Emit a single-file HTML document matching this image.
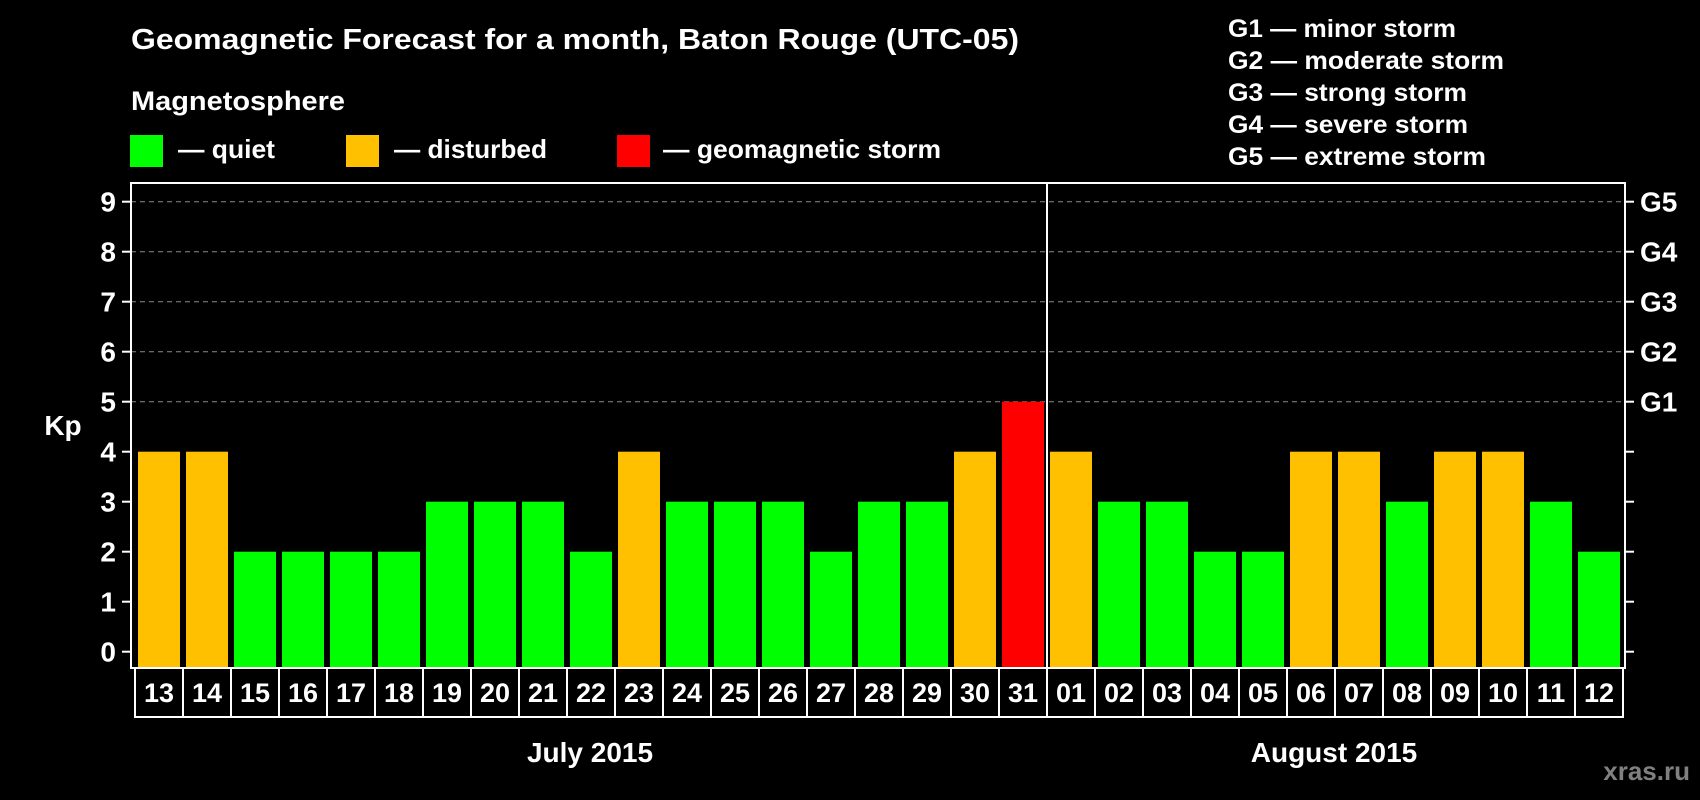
<!DOCTYPE html>
<html><head><meta charset="utf-8"><style>
html,body{margin:0;padding:0;background:#000;}
svg{display:block;font-family:"Liberation Sans",Arial,sans-serif;font-weight:bold;}
</style></head><body>
<svg id="chart" width="1700" height="800" viewBox="0 0 1700 800">
<rect x="0" y="0" width="1700" height="800" fill="#000"/>
<text x="131" y="49" font-size="29" fill="#fff" textLength="888" lengthAdjust="spacingAndGlyphs">Geomagnetic Forecast for a month, Baton Rouge (UTC-05)</text>
<text x="131" y="110" font-size="27" fill="#fff" textLength="214" lengthAdjust="spacingAndGlyphs">Magnetosphere</text>
<g>
<rect x="130" y="135" width="33" height="32" fill="#00ff00"/>
<text x="178" y="158" font-size="26" fill="#fff" textLength="97" lengthAdjust="spacingAndGlyphs">— quiet</text>
</g>
<g>
<rect x="346" y="135" width="33" height="32" fill="#ffc000"/>
<text x="394" y="158" font-size="26" fill="#fff" textLength="153" lengthAdjust="spacingAndGlyphs">— disturbed</text>
</g>
<g>
<rect x="617" y="135" width="33" height="32" fill="#ff0000"/>
<text x="663" y="158" font-size="26" fill="#fff" textLength="278" lengthAdjust="spacingAndGlyphs">— geomagnetic storm</text>
</g>
<g>
<text x="1228" y="37" font-size="25" fill="#fff" textLength="228" lengthAdjust="spacingAndGlyphs">G1 — minor storm</text>
<text x="1228" y="69" font-size="25" fill="#fff" textLength="276" lengthAdjust="spacingAndGlyphs">G2 — moderate storm</text>
<text x="1228" y="101" font-size="25" fill="#fff" textLength="239" lengthAdjust="spacingAndGlyphs">G3 — strong storm</text>
<text x="1228" y="133" font-size="25" fill="#fff" textLength="240" lengthAdjust="spacingAndGlyphs">G4 — severe storm</text>
<text x="1228" y="165" font-size="25" fill="#fff" textLength="258" lengthAdjust="spacingAndGlyphs">G5 — extreme storm</text>
</g>
<text x="63" y="435" font-size="28" fill="#fff" text-anchor="middle">Kp</text>
<g id="grid"></g>
<g id="bars"></g>
<g id="axes"></g>
<text x="590" y="762" font-size="28" fill="#fff" text-anchor="middle">July 2015</text>
<text x="1334" y="762" font-size="28" fill="#fff" text-anchor="middle">August 2015</text>
<text x="1690" y="780" font-size="26" fill="#808080" text-anchor="end">xras.ru</text>
</svg>
<script>
const days = ["13","14","15","16","17","18","19","20","21","22","23","24","25","26","27","28","29","30","31","01","02","03","04","05","06","07","08","09","10","11","12"];
const kpValues = [4,4,2,2,2,2,3,3,3,2,4,3,3,3,2,3,3,4,5,4,3,3,2,2,4,4,3,4,4,3,2];
const yTicks = [0,1,2,3,4,5,6,7,8,9];
const stormLabels = ["G1","G2","G3","G4","G5"];
const stormLevels = [5,6,7,8,9];
const monthBreakIndex = 19;

const NS = "http://www.w3.org/2000/svg";
const plotL = 131, plotR = 1625, plotT = 183, plotB = 668;
const slot0 = 135, slotW = 48;
function yScale(v){ return 651.7 - 50 * v; }
function xSlot(i){ return slot0 + slotW * i; }
function mk(tag, attrs, parent){ const e = document.createElementNS(NS, tag); for (const k in attrs) e.setAttribute(k, attrs[k]); parent.appendChild(e); return e; }
function colorFor(v){ return v >= 5 ? "#ff0000" : (v >= 4 ? "#ffc000" : "#00ff00"); }

const grid = document.getElementById("grid");
const bars = document.getElementById("bars");
const axes = document.getElementById("axes");

yTicks.forEach(function(t){
  const y = yScale(t);
  if (t >= 5) {
    const g = mk("line", {x1: plotL, x2: plotR, y1: y, y2: y, stroke: "#8a8a8a", "stroke-width": 1, "stroke-dasharray": "5,4"}, grid);
    
    
  }
  const tl = mk("line", {x1: 122, x2: plotL, y1: y, y2: y, stroke: "#fff", "stroke-width": 2}, axes);
  
  
  const tr = mk("line", {x1: plotR, x2: 1634, y1: y, y2: y, stroke: "#fff", "stroke-width": 2}, axes);
  
  
  const lab = mk("text", {x: 116, y: y + 10, "font-size": 28, fill: "#fff", "text-anchor": "end"}, axes);
  lab.textContent = t;
  
  
});

stormLabels.forEach(function(s, i){
  const y = yScale(stormLevels[i]);
  const lab = mk("text", {x: 1640, y: y + 10, "font-size": 28, fill: "#fff"}, axes);
  lab.textContent = s;
  
  
});

kpValues.forEach(function(v, i){
  const x = xSlot(i) + 3;
  const b = mk("rect", {x: x, y: yScale(v), width: 42, height: (plotB - 1) - yScale(v), fill: colorFor(v)}, bars);
  
  
});

const frame = mk("rect", {x: plotL, y: plotT, width: plotR - plotL, height: plotB - plotT, fill: "none", stroke: "#fff", "stroke-width": 2}, axes);


const div = mk("line", {x1: xSlot(monthBreakIndex), x2: xSlot(monthBreakIndex), y1: plotT, y2: plotB, stroke: "#fff", "stroke-width": 2}, axes);



const cellTop = 669, cellBot = 717;
const hline = mk("line", {x1: xSlot(0), x2: xSlot(days.length), y1: cellBot, y2: cellBot, stroke: "#fff", "stroke-width": 2}, axes);


for (let i = 0; i <= days.length; i++) {
  const vl = mk("line", {x1: xSlot(i), x2: xSlot(i), y1: cellTop, y2: cellBot + 1, stroke: "#fff", "stroke-width": 2}, axes);
  
  
}
days.forEach(function(d, i){
  const t = mk("text", {x: xSlot(i) + slotW / 2, y: 702, "font-size": 27, fill: "#fff", "text-anchor": "middle"}, axes);
  t.textContent = d;
  
  
});
</script>
</body></html>
